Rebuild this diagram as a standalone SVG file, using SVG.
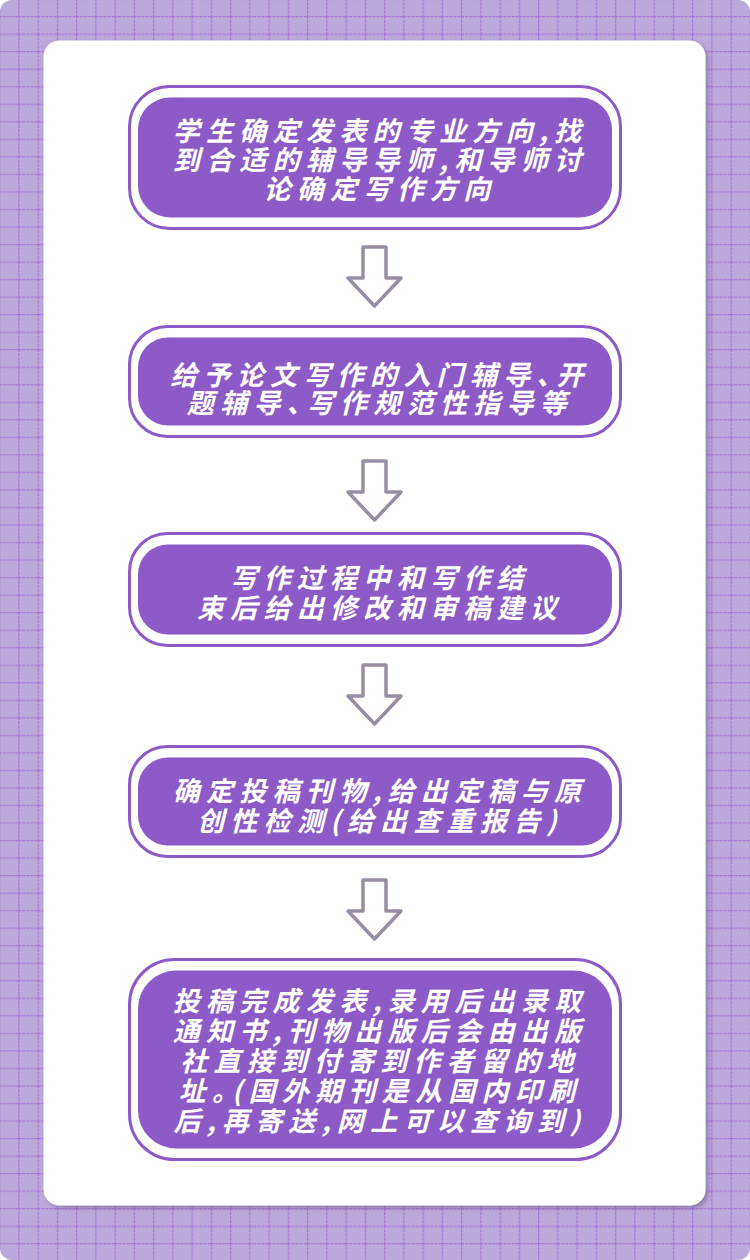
<svg xmlns="http://www.w3.org/2000/svg" width="750" height="1260" viewBox="0 0 750 1260">
<style>
.t{font-family:"Noto Sans CJK SC","Noto Sans",sans-serif;font-size:27px;font-weight:bold;font-style:italic;fill:#ffffff;text-anchor:middle;letter-spacing:6.3px}
.p{letter-spacing:-7px}
.outer{fill:#ffffff;stroke:#8d5bc8;stroke-width:3}
.inner{fill:#8d5bc8}
.arr{fill:none;stroke:#978ea3;stroke-width:3.5;stroke-linejoin:round}
</style>
<defs>
<pattern id="grid" x="-1" y="-1.5" width="19.25" height="17.53" patternUnits="userSpaceOnUse">
<rect width="19.25" height="17.53" fill="#bca9dc"/>
<line x1="0.5" y1="0" x2="0.5" y2="17.53" stroke="#a474d8" stroke-width="1.5" stroke-dasharray="3 1"/>
<line x1="0" y1="0.5" x2="19.25" y2="0.5" stroke="#a474d8" stroke-width="1.5" stroke-dasharray="3 1"/>
</pattern>
<filter id="sh" x="-5%" y="-5%" width="110%" height="110%">
<feDropShadow dx="3" dy="3" stdDeviation="2" flood-color="#6a5a80" flood-opacity="0.5"/>
</filter>
</defs>
<rect x="0" y="0" width="750" height="1260" fill="#ffffff"/>
<rect x="0" y="0" width="750" height="1260" rx="12" fill="url(#grid)"/>
<rect x="43.5" y="40.5" width="662" height="1165" rx="16" fill="#ffffff" filter="url(#sh)"/>

<g id="node1">
<rect class="outer" x="129.5" y="86.5" width="491" height="142" rx="40"/>
<rect class="inner" x="138" y="97.5" width="474" height="120" rx="32"/>
<text class="t" x="380" y="141">学生确定发表的专业方向,找</text>
<text class="t" x="380" y="170">到合适的辅导导师,和导师讨</text>
<text class="t" x="380" y="199">论确定写作方向</text>
</g>
<g id="node2">
<rect class="outer" x="129.5" y="326.5" width="491" height="110" rx="38"/>
<rect class="inner" x="138" y="337.5" width="474" height="88" rx="30"/>
<text class="t" x="380" y="385">给予论文写作的入门辅导<tspan class="p">、</tspan>开</text>
<text class="t" x="380" y="413">题辅导<tspan class="p">、</tspan>写作规范性指导等</text>
</g>
<g id="node3">
<rect class="outer" x="129.5" y="533.5" width="491" height="112" rx="38"/>
<rect class="inner" x="138" y="544.5" width="474" height="90" rx="30"/>
<text class="t" x="380" y="588">写作过程中和写作结</text>
<text class="t" x="380" y="618">束后给出修改和审稿建议</text>
</g>
<g id="node4">
<rect class="outer" x="129.5" y="746.5" width="491" height="110" rx="38"/>
<rect class="inner" x="138" y="757.5" width="474" height="88" rx="30"/>
<text class="t" x="380" y="801">确定投稿刊物,给出定稿与原</text>
<text class="t" x="380" y="831">创性检测(给出查重报告)</text>
</g>
<g id="node5">
<rect class="outer" x="129.5" y="959.5" width="491" height="200" rx="45"/>
<rect class="inner" x="138" y="970.5" width="474" height="178" rx="38"/>
<text class="t" x="380" y="1011">投稿完成发表,录用后出录取</text>
<text class="t" x="380" y="1041">通知书,刊物出版后会由出版</text>
<text class="t" x="380" y="1071">社直接到付寄到作者留的地</text>
<text class="t" x="380" y="1101">址<tspan class="p">。</tspan>(国外期刊是从国内印刷</text>
<text class="t" x="380" y="1131">后,再寄送,网上可以查询到)</text>
</g>

<g id="connectors">
<path class="arr" d="M363 247 H386 V278 H401 L374.5 306 L348 278 H363 Z"/>
<path class="arr" d="M363 461 H386 V492 H401 L374.5 520 L348 492 H363 Z"/>
<path class="arr" d="M363 665 H386 V696 H401 L374.5 724 L348 696 H363 Z"/>
<path class="arr" d="M363 880 H386 V911 H401 L374.5 939 L348 911 H363 Z"/>
</g>
</svg>
